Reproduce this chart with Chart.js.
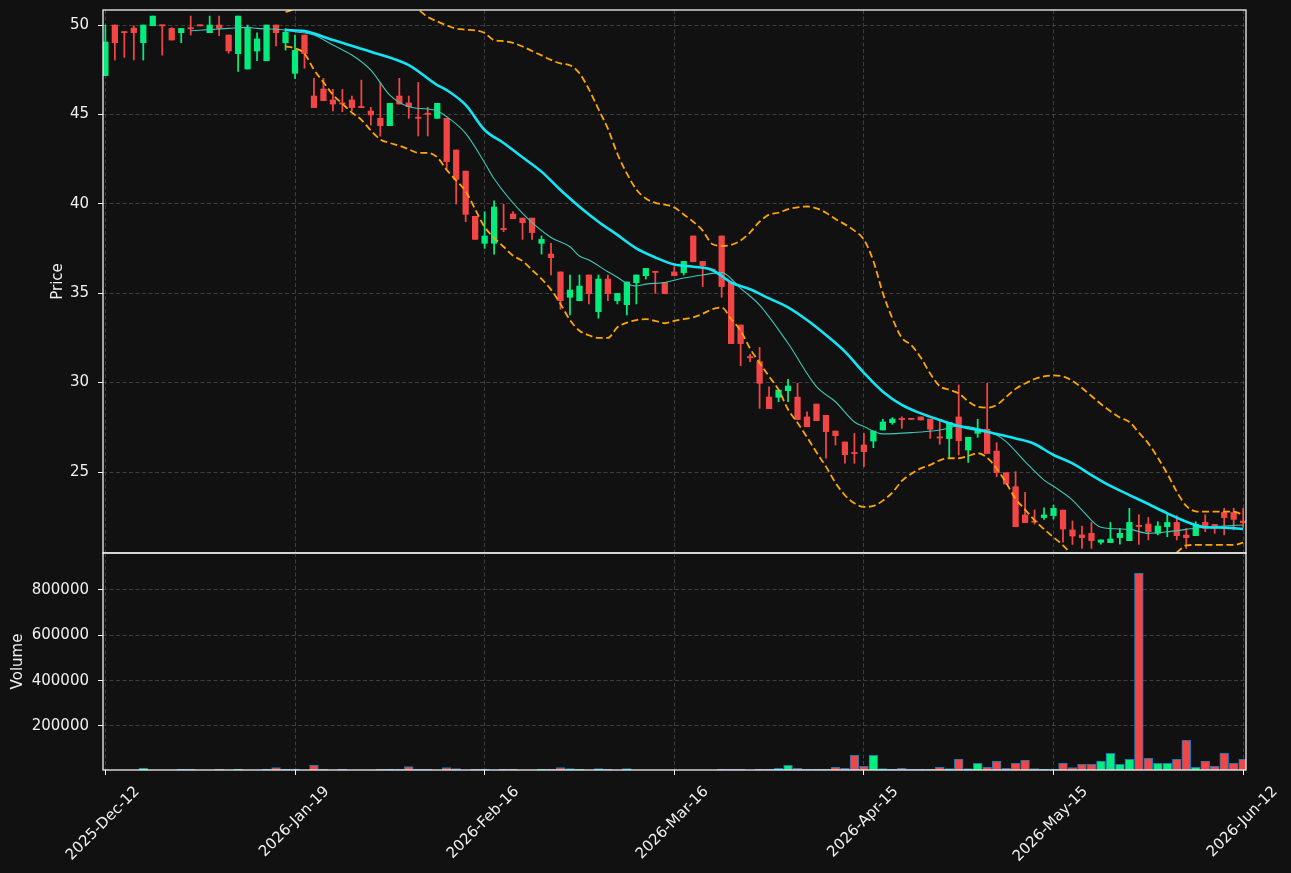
<!DOCTYPE html>
<html><head><meta charset="utf-8">
<script src="https://cdn.jsdelivr.net/npm/chart.js@4.4.1/dist/chart.umd.min.js"></script>
<style>
html,body{margin:0;padding:0;background:#111111;}
#wrap{position:relative;width:1291px;height:873px;overflow:hidden;}
canvas{position:absolute;left:0;top:0;}
</style></head><body>
<div id="wrap"><canvas id="priceCv" width="1291" height="873"></canvas><canvas id="volCv" width="1291" height="873"></canvas></div>
<script>
// ---- x axis tick labels (trading-day index -> date) ----
const tickIndex  = [0, 20, 40, 60, 80, 100, 120];
const tickLabels = ['2025-Dec-12','2026-Jan-19','2026-Feb-16','2026-Mar-16','2026-Apr-15','2026-May-15','2026-Jun-12'];

// ---- OHLC (index 0..120) ----
const opens = [47.17,50.0,49.6,49.83,49.01,49.96,49.98,49.81,49.57,49.83,49.98,49.57,50.0,49.44,48.40,47.54,48.55,48.0,50.0,49.01,
 47.3,49.44,46.03,46.42,45.81,45.62,45.81,45.41,45.19,44.78,44.37,46.03,45.64,44.80,45.02,44.78,44.78,43.01,41.83,39.3,
 37.79,37.79,38.58,39.43,39.20,39.20,37.79,37.19,36.19,34.77,34.58,36.02,33.97,35.79,34.58,34.36,35.59,35.98,36.18,35.61,
 36.19,36.15,38.20,36.78,36.30,38.20,35.61,33.22,31.42,31.17,29.19,29.18,29.55,29.19,28.08,28.80,28.17,27.29,26.68,26.05,
 26.51,26.73,27.35,27.76,27.95,27.95,28.08,27.96,26.93,26.87,28.08,26.23,27.16,27.39,26.17,24.96,24.18,22.6,22.21,22.45,
 22.56,22.87,21.76,21.48,21.57,21.07,21.05,21.33,21.16,21.97,22.09,21.57,21.94,22.18,21.48,21.44,22.18,22.07,22.74,22.74,22.26];
const highs = [50.0,50.0,49.62,49.96,50.0,50.5,50.0,49.85,49.81,50.5,50.0,50.5,50.5,49.44,50.5,50.0,49.57,50.0,50.0,49.8,
 49.44,49.44,47.02,47.02,46.40,46.40,46.03,46.92,45.40,46.79,45.62,47.02,46.03,46.79,45.40,45.62,44.78,43.01,41.83,39.3,
 39.56,40.17,39.97,39.56,39.20,39.20,38.20,37.79,36.19,36.02,36.02,36.02,36.02,36.02,34.99,35.63,36.02,36.39,36.18,35.61,
 36.48,36.78,38.20,36.78,36.35,38.20,35.61,33.22,31.58,31.97,29.77,29.58,30.18,29.96,28.37,28.80,28.17,27.29,26.68,27.16,
 27.16,27.29,27.95,28.04,28.09,27.96,28.08,27.96,27.91,27.78,29.87,26.94,27.95,29.96,26.64,24.96,25.02,23.86,22.88,22.99,
 23.15,22.87,22.26,21.98,22.18,21.2,22.18,21.85,22.97,22.61,22.46,22.22,22.74,22.56,21.85,22.22,22.61,22.07,22.97,22.97,22.97];
const lows = [47.17,48.04,48.19,48.04,48.04,49.96,48.32,49.16,49.01,49.44,49.95,49.57,49.4,48.42,47.41,47.54,48.0,48.0,48.83,48.6,
 47.0,47.58,45.38,45.77,45.19,45.15,45.19,45.38,44.41,43.79,44.37,45.58,44.78,43.79,43.79,44.78,41.98,39.99,39.0,38.01,
 37.51,37.19,38.44,39.17,38.01,38.01,37.19,36.02,34.10,33.78,34.58,34.40,33.60,34.58,34.40,33.78,34.40,35.79,34.99,34.97,
 35.98,36.02,36.76,35.37,36.25,34.77,32.18,30.95,31.17,28.56,28.54,28.93,28.93,27.93,27.53,27.87,25.77,26.51,25.49,25.49,
 25.30,26.36,27.35,27.67,27.44,27.93,27.91,26.88,26.55,25.76,25.95,25.54,26.94,26.03,24.74,24.33,21.94,22.17,22.09,22.35,
 22.37,21.07,20.95,20.73,20.73,20.97,21.05,20.97,21.16,20.95,21.2,21.48,21.38,21.2,20.73,21.44,21.66,21.57,21.48,21.76,21.9];
const closes = [49.05,49.01,49.57,49.57,50.0,50.5,49.95,49.16,49.81,49.79,49.95,50.0,49.82,48.55,50.5,49.81,49.22,50.0,49.57,49.6,
 48.58,48.40,45.38,45.77,45.58,45.58,45.38,45.38,44.97,44.37,45.62,45.58,45.43,44.78,45.0,45.62,42.36,41.37,39.41,38.01,
 38.2,39.82,38.56,39.17,38.94,38.39,38.01,36.99,34.58,35.18,35.40,34.97,35.79,34.97,34.99,35.63,36.02,36.39,36.16,34.97,
 35.98,36.78,36.76,36.54,36.28,35.37,32.18,32.18,31.39,29.96,28.54,29.58,29.81,27.93,27.53,27.87,27.26,27.03,25.97,26.03,
 26.14,27.29,27.80,27.96,27.93,27.94,27.91,27.39,26.90,27.78,26.75,26.94,27.40,26.03,24.96,24.33,21.94,22.17,22.19,22.6,
 22.97,21.81,21.42,21.33,21.16,21.2,21.25,21.57,22.18,21.95,21.66,21.98,22.18,21.44,21.33,22.07,21.85,21.85,22.45,22.35,22.17];
const volumes = [4000,4000,4000,4000,14000,4000,4000,4000,10500,10500,4000,4000,10500,4000,10500,4000,4000,10500,17000,10500,
 10500,4000,27000,10500,4000,10500,4000,4000,4000,10500,10500,10500,21000,10500,10500,4000,17000,12500,4000,10500,
 10500,4000,10500,10500,4000,4000,10500,10500,17000,12500,10500,4000,12500,10500,4000,12500,4000,4000,4000,4000,
 4000,4000,4000,4000,4000,10500,10500,10500,4000,10500,10500,13000,26000,13000,10500,10500,10500,18000,13000,71000,
 21600,71000,12500,10500,13000,10500,10500,10500,18000,12500,54000,12500,35300,18000,44000,13000,35300,48500,12500,10500,
 10500,35300,17000,31000,31000,45600,79500,31000,53100,873700,57500,35500,35500,53100,136900,17800,45600,22200,79500,35500,53100];

// ---- moving averages: [index, value] ----
const ma10 = [[9,49.68],[13,49.81],[15,49.87],[16,49.81],[19,49.72],[20,49.63],[22,49.44],[24,48.88],[26,48.32],[28,47.48],[30,46.08],
 [32,45.43],[34,45.30],[35,45.19],[36,44.87],[38,43.94],[40,42.3],[41,41.4],[44,39.47],[47,38.12],[49,37.6],[50,37.08],[51,36.86],
 [53,36.2],[54,35.89],[55,35.55],[56,35.40],[57,35.51],[59,35.6],[61,35.85],[63,36.02],[65,36.15],[67,35.27],[69,34.34],[72,32.2],
 [75,29.77],[77,28.93],[79,27.8],[80,27.54],[82,27.13],[85,27.2],[88,27.35],[90,27.57],[91,27.54],[94,27.07],[95,26.7],[97,25.58],
 [99,24.55],[100,24.2],[102,23.43],[103,22.87],[105,21.91],[108,21.79],[110,21.57],[112,21.66],[114,21.79],[116,21.91],[118,21.98],[120,22.04]];
const ma20 = [[19,49.72],[21,49.66],[24,49.16],[28,48.51],[32,47.76],[35,46.64],[36,46.36],[38,45.53],[40,44.13],[42,43.4],[44,42.6],
 [46,41.8],[48,40.77],[50,39.84],[52,39.0],[54,38.26],[56,37.51],[58,37.0],[60,36.6],[62,36.48],[64,36.3],[66,35.6],[68,35.22],
 [70,34.71],[72,34.21],[74,33.5],[76,32.66],[78,31.73],[80,30.55],[82,29.49],[84,28.75],[86,28.28],[88,27.91],[90,27.57],[92,27.35],
 [94,27.13],[96,26.88],[98,26.57],[100,25.95],[102,25.48],[104,24.83],[106,24.22],[108,23.71],[110,23.21],[112,22.69],[114,22.22],
 [116,21.91],[118,21.89],[120,21.81]];

// ---- Bollinger bands, index 19..120 ----
const bbStart = 19;
const bbUpper = [50.73,50.9,51.2,51.5,51.8,52.0,52.2,52.3,52.3,52.2,52.0,51.7,51.4,51.1,50.85,50.45,50.2,49.98,49.8,49.74,
 49.7,49.55,49.15,49.1,49.0,48.8,48.55,48.3,48.05,47.85,47.75,47.3,46.4,45.3,44.2,42.8,41.7,40.8,40.3,40.05,
 39.95,39.8,39.4,39.0,38.5,37.75,37.65,37.7,37.95,38.4,39.0,39.4,39.5,39.7,39.8,39.85,39.75,39.5,39.15,38.85,
 38.5,38.0,36.8,35.0,33.6,32.5,32.1,31.4,30.5,29.8,29.6,29.4,28.95,28.65,28.6,28.75,29.2,29.65,29.95,30.2,
 30.35,30.4,30.35,30.1,29.7,29.25,28.8,28.4,28.05,27.8,27.2,26.6,25.8,24.9,23.9,23.1,22.8,22.78,22.78,22.78,
 22.78,22.6];
const bbLower = [48.8,48.7,48.4,47.5,46.8,46.1,45.6,45.1,44.7,44.1,43.6,43.4,43.25,43.05,42.85,42.85,42.6,41.9,41.3,40.7,
 39.7,38.7,38.1,37.6,37.1,36.8,36.3,35.8,35.2,34.4,33.5,32.9,32.65,32.5,32.5,33.1,33.35,33.5,33.55,33.45,
 33.32,33.45,33.55,33.65,33.85,34.1,34.2,33.55,32.9,31.9,31.1,30.35,29.6,28.5,27.75,26.95,26.1,25.3,24.4,23.7,
 23.25,23.05,23.1,23.4,23.85,24.5,24.9,25.2,25.4,25.65,25.77,25.77,25.9,26.05,25.8,25.2,24.4,23.5,22.9,22.3,
 21.8,21.35,20.9,20.35,20.0,19.7,19.5,19.4,19.4,19.5,19.6,19.8,20.0,20.2,20.5,20.9,20.92,20.92,20.92,20.92,
 20.92,21.05];

// ---- styling ----
const UP = '#05ec7e', DOWN = '#f24646';
const GRID = '#3e3e3e', TXT = '#f0f0f0';
const FONT = {family: "'DejaVu Sans', sans-serif", size: 15};
const colorOf = i => (closes[i] < opens[i] ? DOWN : UP);
const idx = opens.map((_, i) => i);

const frame = {id: 'frame', afterDraw(chart) {
  const a = chart.chartArea, c = chart.ctx;
  c.save(); c.strokeStyle = '#f2f2f2'; c.lineWidth = 1.3;
  c.strokeRect(a.left, a.top, a.right - a.left, a.bottom - a.top);
  c.restore();
}};

function xScale(showLabels) {
  return {
    type: 'linear', min: -0.25, max: 120.3, offset: false,
    afterBuildTicks: ax => { ax.ticks = tickIndex.map(v => ({value: v})); },
    afterFit: s => { s.height = showLabels ? 103 : 0; s.paddingLeft = 0; s.paddingRight = 0; },
    grid: {offset: false, color: GRID, lineWidth: 1, drawTicks: showLabels, tickLength: 5, tickColor: TXT},
    border: {display: false, dash: [4, 2.5]},
    ticks: {display: showLabels, autoSkip: false, maxRotation: 45, minRotation: 45, color: TXT, font: FONT,
      padding: 8, labelOffset: 32,
      callback: v => { const k = tickIndex.indexOf(v); return k >= 0 ? tickLabels[k] : ''; }}
  };
}
function yScale(min, max, ticks, title, titlePad) {
  return {
    min: min, max: max,
    afterBuildTicks: ax => { ax.ticks = ticks.map(v => ({value: v})); },
    afterFit: s => { s.width = 103; s.paddingTop = 0; s.paddingBottom = 0; },
    grid: {color: GRID, lineWidth: 1, drawTicks: true, tickLength: 5, tickColor: TXT},
    border: {display: false, dash: [4, 2.5]},
    ticks: {color: TXT, font: FONT, padding: 9, callback: v => String(v)},
    title: {display: true, text: title, color: TXT, font: FONT, padding: {top: titlePad, bottom: 0}}
  };
}

Chart.defaults.font.family = FONT.family;

new Chart(document.getElementById('priceCv'), {
  data: {
    datasets: [
      {type: 'line', label: 'MA20', data: ma20.map(p => ({x: p[0], y: p[1]})), borderColor: '#10e6f6', borderWidth: 2.6,
       pointRadius: 0, cubicInterpolationMode: 'monotone', order: 0},
      {type: 'line', label: 'MA10', data: ma10.map(p => ({x: p[0], y: p[1]})), borderColor: '#3fc6b6', borderWidth: 1.1,
       pointRadius: 0, cubicInterpolationMode: 'monotone', order: 0},
      {type: 'line', label: 'BB upper', data: bbUpper.map((v, k) => ({x: bbStart + k, y: v})), borderColor: '#ffa500', borderWidth: 1.8,
       borderDash: [7, 3.5], pointRadius: 0, cubicInterpolationMode: 'monotone', order: 0},
      {type: 'line', label: 'BB lower', data: bbLower.map((v, k) => ({x: bbStart + k, y: v})), borderColor: '#ffa500', borderWidth: 1.8,
       borderDash: [7, 3.5], pointRadius: 0, cubicInterpolationMode: 'monotone', order: 0},
      {type: 'bar', label: 'body', data: idx.map(i => ({x: i, y: [Math.min(opens[i], closes[i]), Math.max(opens[i], closes[i])]})),
       backgroundColor: idx.map(colorOf), barThickness: 5.6, grouped: false, minBarLength: 1.2, order: 1},
      {type: 'bar', label: 'wick', data: idx.map(i => ({x: i, y: [lows[i], highs[i]]})),
       backgroundColor: idx.map(colorOf), barThickness: 1.1, grouped: false, order: 2}
    ]
  },
  options: {
    responsive: false, animation: false, devicePixelRatio: 1,
    layout: {padding: {left: 0, right: 45, top: 10, bottom: 320}},
    plugins: {legend: {display: false}, tooltip: {enabled: false}},
    scales: {
      x: xScale(false),
      y: yScale(20.47, 50.84, [25, 30, 35, 40, 45, 50], 'Price', 49)
    }
  },
  plugins: [frame]
});

new Chart(document.getElementById('volCv'), {
  data: {
    datasets: [
      {type: 'bar', label: 'Volume', data: idx.map(i => ({x: i, y: volumes[i]})), backgroundColor: idx.map(colorOf),
       borderColor: '#1f77b4', borderWidth: 1, barThickness: 8.8, grouped: false}
    ]
  },
  options: {
    responsive: false, animation: false, devicePixelRatio: 1,
    layout: {padding: {left: 0, right: 45, top: 553, bottom: 0}},
    plugins: {legend: {display: false}, tooltip: {enabled: false}},
    scales: {
      x: xScale(true),
      y: yScale(5900, 963000, [200000, 400000, 600000, 800000], 'Volume', 9)
    }
  },
  plugins: [frame]
});
</script>
</body></html>
